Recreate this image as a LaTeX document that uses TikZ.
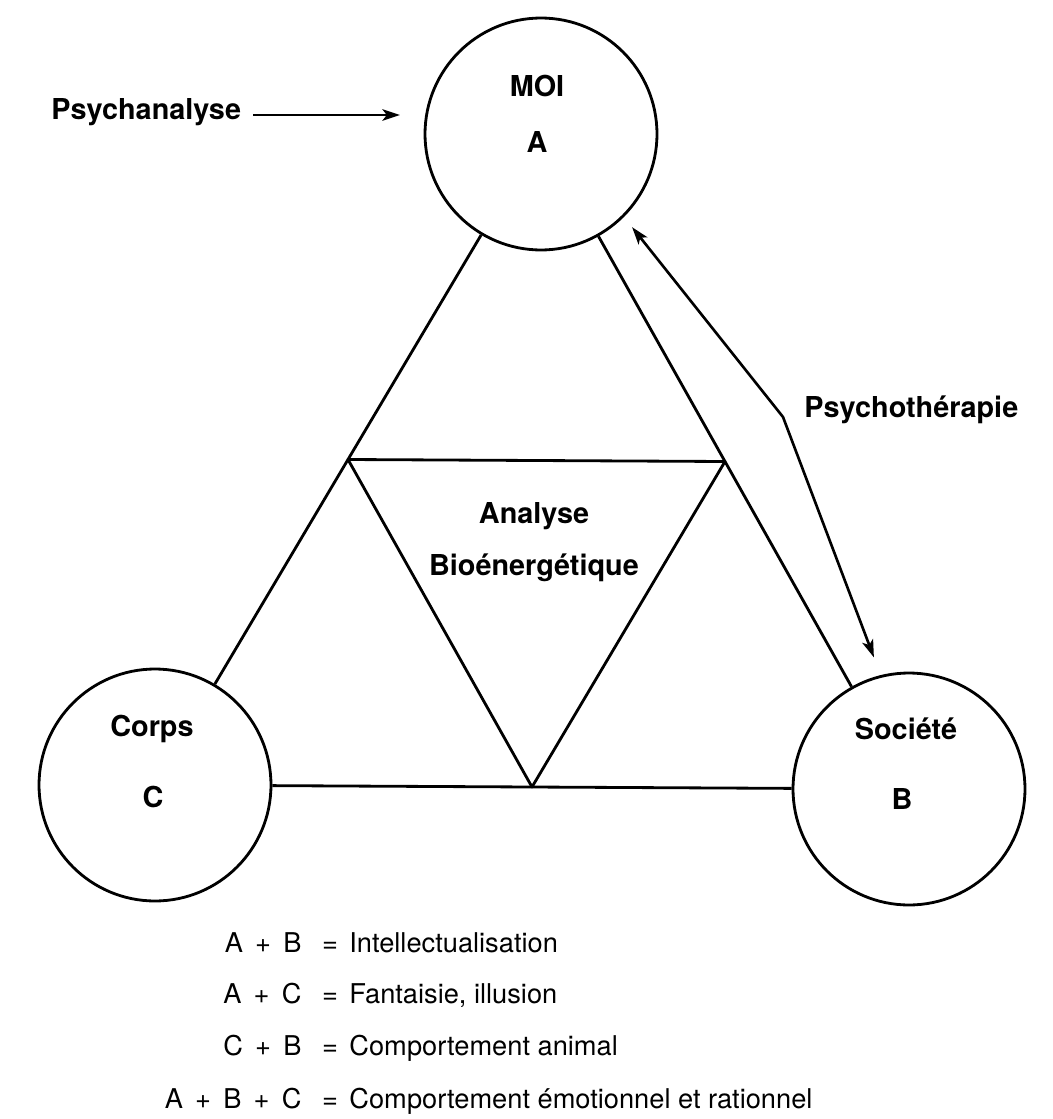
\documentclass[tikz,border=0pt]{standalone}
\usepackage{fontspec}
\setmainfont{TeX Gyre Heros}
\usetikzlibrary{arrows.meta,calc}
\begin{document}
\begin{tikzpicture}[x=0.02cm,y=-0.02cm,line width=1.6pt,line join=round,
  pole/.style={circle,draw,minimum size=4.64cm,inner sep=0pt},
  lab/.style={font=\fontsize{16.4}{19}\bfseries\selectfont,inner sep=0pt,anchor=base},
  eqtxt/.style={font=\fontsize{15.5}{18}\selectfont,inner sep=0pt},
  head/.tip={Stealth[length=10pt,width=6.5pt,inset=2.5pt]},
  tip/.style={line width=1.5pt,-head},
  bitip/.style={line width=1.5pt,head-head}]
\useasboundingbox (0,0) rectangle (1052,1119);
\fill[white] (0,0) rectangle (1052,1119);

% the three poles
\node[pole] (moi)   at (541,134) {};
\node[pole] (corps) at (155,785) {};
\node[pole] (soc)   at (909,789) {};

\node[lab] (moiName)   at (537,96)  {MOI};
\node[lab] (moiLetter) at (537,152) {A};
\node[lab] (corpsName)   at (152,736) {Corps};
\node[lab] (corpsLetter) at (153,807) {C};
\node[lab] (socName)   at (906,739) {Société};
\node[lab] (socLetter) at (902,809) {B};

% outer triangle joining the poles
\draw (moi) -- (corps);
\draw (moi) -- (soc);
\draw (corps) -- (soc);

% inner triangle on the mid-points of the sides
\coordinate (midAC) at ($(moi.center)!0.5!(corps.center)$);
\coordinate (midAB) at ($(moi.center)!0.5!(soc.center)$);
\coordinate (midCB) at ($(corps.center)!0.5!(soc.center)$);
\draw (midAC) -- (midAB) -- (midCB) -- cycle;

\node[lab] (bioA) at (534,523) {Analyse};
\node[lab] (bioB) at (534,575) {Bioénergétique};

% Psychanalyse
\node[lab,anchor=base west] (psa) at (50,119) {Psychanalyse};
\coordinate (psaEnd) at (400,115);
\draw[tip] (psa.east |- psaEnd) ++(11,0) -- (psaEnd);

% Psychothérapie
\coordinate (ptBend) at (783,417);
\draw[bitip,shorten <=0.26cm,shorten >=0.38cm] (moi.-45) -- (ptBend) -- (soc.104);
\node[lab,anchor=base west] (ptLabel) at (803,417) {Psychothérapie};

% combinations
\node[eqtxt,anchor=base east] (l1) at (303,952) {A\hspace{0.45em}+\hspace{0.45em}B};
\node[eqtxt,anchor=base] (e1) at (330,952) {=};
\node[eqtxt,anchor=base west] (r1) at (348,952) {Intellectualisation};

\node[eqtxt,anchor=base east] (l2) at (303,1003) {A\hspace{0.45em}+\hspace{0.45em}C};
\node[eqtxt,anchor=base] (e2) at (330,1003) {=};
\node[eqtxt,anchor=base west] (r2) at (348,1003) {Fantaisie, illusion};

\node[eqtxt,anchor=base east] (l3) at (303,1055) {C\hspace{0.45em}+\hspace{0.45em}B};
\node[eqtxt,anchor=base] (e3) at (330,1055) {=};
\node[eqtxt,anchor=base west] (r3) at (348,1055) {Comportement animal};

\node[eqtxt,anchor=base east] (l4) at (303,1108) {A\hspace{0.45em}+\hspace{0.45em}B\hspace{0.45em}+\hspace{0.45em}C};
\node[eqtxt,anchor=base] (e4) at (330,1108) {=};
\node[eqtxt,anchor=base west] (r4) at (348,1108) {Comportement émotionnel et rationnel};
\end{tikzpicture}
\end{document}
